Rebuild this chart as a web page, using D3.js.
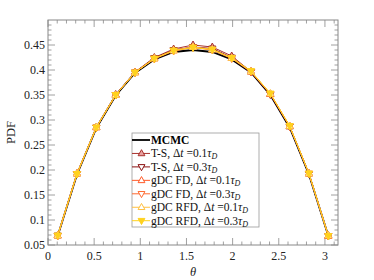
<!DOCTYPE html>
<html>
<head>
<meta charset="utf-8">
<script src="https://cdn.jsdelivr.net/npm/d3@7"></script>
<style>
  body { margin: 0; background: #fff; }
  svg text { font-family: "Liberation Serif", "DejaVu Serif", serif; }
</style>
</head>
<body>
<div id="chart"></div>
<script>
// bin centres (15 bins over [0, pi])
const theta = [0.105, 0.314, 0.524, 0.733, 0.942, 1.152, 1.361, 1.571, 1.780, 1.990, 2.199, 2.409, 2.618, 2.827, 3.037];

const mcmc   = [0.068, 0.191, 0.284, 0.349, 0.394, 0.421, 0.436, 0.440, 0.436, 0.421, 0.395, 0.350, 0.285, 0.191, 0.068];
const ts01   = [0.069, 0.193, 0.286, 0.351, 0.396, 0.425, 0.442, 0.450, 0.446, 0.428, 0.397, 0.352, 0.287, 0.193, 0.069];
const ts03   = [0.069, 0.192, 0.285, 0.350, 0.395, 0.424, 0.440, 0.446, 0.443, 0.425, 0.396, 0.351, 0.287, 0.192, 0.068];
const fd01   = [0.069, 0.193, 0.285, 0.350, 0.395, 0.423, 0.439, 0.446, 0.441, 0.424, 0.397, 0.352, 0.288, 0.193, 0.068];
const fd03   = [0.068, 0.192, 0.285, 0.350, 0.395, 0.422, 0.438, 0.445, 0.440, 0.423, 0.396, 0.352, 0.287, 0.193, 0.068];
const rfd01  = [0.069, 0.193, 0.286, 0.350, 0.395, 0.423, 0.439, 0.446, 0.441, 0.424, 0.397, 0.353, 0.288, 0.193, 0.069];
const rfd03  = [0.069, 0.192, 0.285, 0.350, 0.395, 0.423, 0.439, 0.445, 0.441, 0.424, 0.398, 0.353, 0.288, 0.193, 0.068];

const xTicks = [0, 0.5, 1, 1.5, 2, 2.5, 3];
const yTicks = [0.05, 0.1, 0.15, 0.2, 0.25, 0.3, 0.35, 0.4, 0.45];

const series = [
  { name: "T-S, ",     dt: "0.1", values: ts01,  color: "#a8322d", fill: "#e8a0a0", sym: "up" },
  { name: "T-S, ",     dt: "0.3", values: ts03,  color: "#8b1010", fill: "#ffffff", sym: "down" },
  { name: "gDC FD, ",  dt: "0.1", values: fd01,  color: "#ff5a28", fill: "#ffffff", sym: "up" },
  { name: "gDC FD, ",  dt: "0.3", values: fd03,  color: "#ff6a30", fill: "#ffffff", sym: "down" },
  { name: "gDC RFD, ", dt: "0.1", values: rfd01, color: "#ffc040", fill: "#ffffff", sym: "up" },
  { name: "gDC RFD, ", dt: "0.3", values: rfd03, color: "#ffd21e", fill: "#ffd21e", sym: "down" }
];

const margin = { top: 20, right: 36, bottom: 35, left: 48 },
    width = 374 - margin.left - margin.right,
    height = 280 - margin.top - margin.bottom;

const svg = d3.select("#chart")
    .append("svg")
    .attr("width", 374)
    .attr("height", 280)
    .append("g")
    .attr("transform", `translate(${margin.left},${margin.top})`);

const x = d3.scaleLinear().domain([0, Math.PI]).range([0, width]);
const y = d3.scaleLinear().domain([0.05, 0.5]).range([height, 0]);

const axisColor = "#888";
const minorX = d3.range(0, 3.15, 0.1);
const minorY = d3.range(0.05, 0.5, 0.01);

// ticks (inward, mirrored)
function drawTicks() {
  const g = svg.append("g").attr("stroke", axisColor).attr("stroke-width", 0.8);
  minorX.forEach(v => {
    const major = xTicks.some(t => Math.abs(t - v) < 1e-6);
    const len = major ? 7 : 3.5;
    g.append("line").attr("x1", x(v)).attr("x2", x(v)).attr("y1", height).attr("y2", height - len);
    g.append("line").attr("x1", x(v)).attr("x2", x(v)).attr("y1", 0).attr("y2", len);
  });
  minorY.forEach(v => {
    const major = yTicks.some(t => Math.abs(t - v) < 1e-6);
    const len = major ? 7 : 3.5;
    g.append("line").attr("y1", y(v)).attr("y2", y(v)).attr("x1", 0).attr("x2", len);
    g.append("line").attr("y1", y(v)).attr("y2", y(v)).attr("x1", width).attr("x2", width - len);
  });
}
drawTicks();

svg.append("rect")
    .attr("width", width).attr("height", height)
    .attr("fill", "none").attr("stroke", axisColor).attr("stroke-width", 1);

// tick labels
svg.selectAll(".xl").data(xTicks).join("text")
    .attr("x", d => x(d)).attr("y", height + 15)
    .attr("text-anchor", "middle").attr("font-size", 12).attr("fill", "#222")
    .text(d => d);
svg.selectAll(".yl").data(yTicks).join("text")
    .attr("x", -3).attr("y", d => y(d) + 4)
    .attr("text-anchor", "end").attr("font-size", 12).attr("fill", "#222")
    .text(d => d);

// axis titles
svg.append("text")
    .attr("transform", `translate(${-33},${height / 2}) rotate(-90)`)
    .attr("text-anchor", "middle").attr("font-size", 12.5).attr("fill", "#222")
    .text("PDF");
svg.append("text")
    .attr("x", width / 2).attr("y", height + 31)
    .attr("text-anchor", "middle").attr("font-size", 12.5).attr("font-style", "italic").attr("fill", "#222")
    .text("θ");

const line = d3.line().x((d, i) => x(theta[i])).y(d => y(d));

function tri(sym, s) {
  return sym === "up"
    ? `M0,${-s}L${s * 0.9},${s * 0.6}L${-s * 0.9},${s * 0.6}Z`
    : `M0,${s}L${s * 0.9},${-s * 0.6}L${-s * 0.9},${-s * 0.6}Z`;
}

// MCMC reference line
svg.append("path").datum(mcmc)
    .attr("d", line).attr("fill", "none").attr("stroke", "#000").attr("stroke-width", 1.8);

series.forEach(s => {
  svg.append("path").datum(s.values)
      .attr("d", line).attr("fill", "none").attr("stroke", s.color).attr("stroke-width", 1);
  svg.selectAll(null).data(s.values).join("path")
      .attr("transform", (d, i) => `translate(${x(theta[i])},${y(d)})`)
      .attr("d", tri(s.sym, 4))
      .attr("fill", s.fill).attr("stroke", s.color).attr("stroke-width", 1);
});

// legend
const lg = svg.append("g").attr("transform", `translate(${132 - margin.left},${133 - margin.top})`);
lg.append("rect").attr("width", 127).attr("height", 94)
    .attr("fill", "#fff").attr("stroke", "#999").attr("stroke-width", 0.8);
const rowY = i => 7 + i * 13.45;
lg.append("line").attr("x1", 0).attr("x2", 18).attr("y1", rowY(0)).attr("y2", rowY(0))
    .attr("stroke", "#000").attr("stroke-width", 1.8);
lg.append("text").attr("x", 19).attr("y", rowY(0) + 4).attr("font-size", 11.5).attr("font-weight", "bold")
    .text("MCMC");
series.forEach((s, k) => {
  const yy = rowY(k + 1);
  lg.append("line").attr("x1", 0).attr("x2", 18).attr("y1", yy).attr("y2", yy)
      .attr("stroke", s.color).attr("stroke-width", 1);
  lg.append("path").attr("transform", `translate(9.5,${yy})`).attr("d", tri(s.sym, 3.8))
      .attr("fill", s.fill).attr("stroke", s.color).attr("stroke-width", 1);
  const t = lg.append("text").attr("x", 19).attr("y", yy + 4).attr("font-size", 11.5).attr("fill", "#111");
  t.append("tspan").text(s.name + "Δ");
  t.append("tspan").attr("font-style", "italic").text("t");
  t.append("tspan").text(" =" + s.dt);
  t.append("tspan").attr("font-style", "italic").text("τ");
  t.append("tspan").attr("font-style", "italic").attr("font-size", 8).attr("dy", 2).text("D");
});
</script>
</body>
</html>
